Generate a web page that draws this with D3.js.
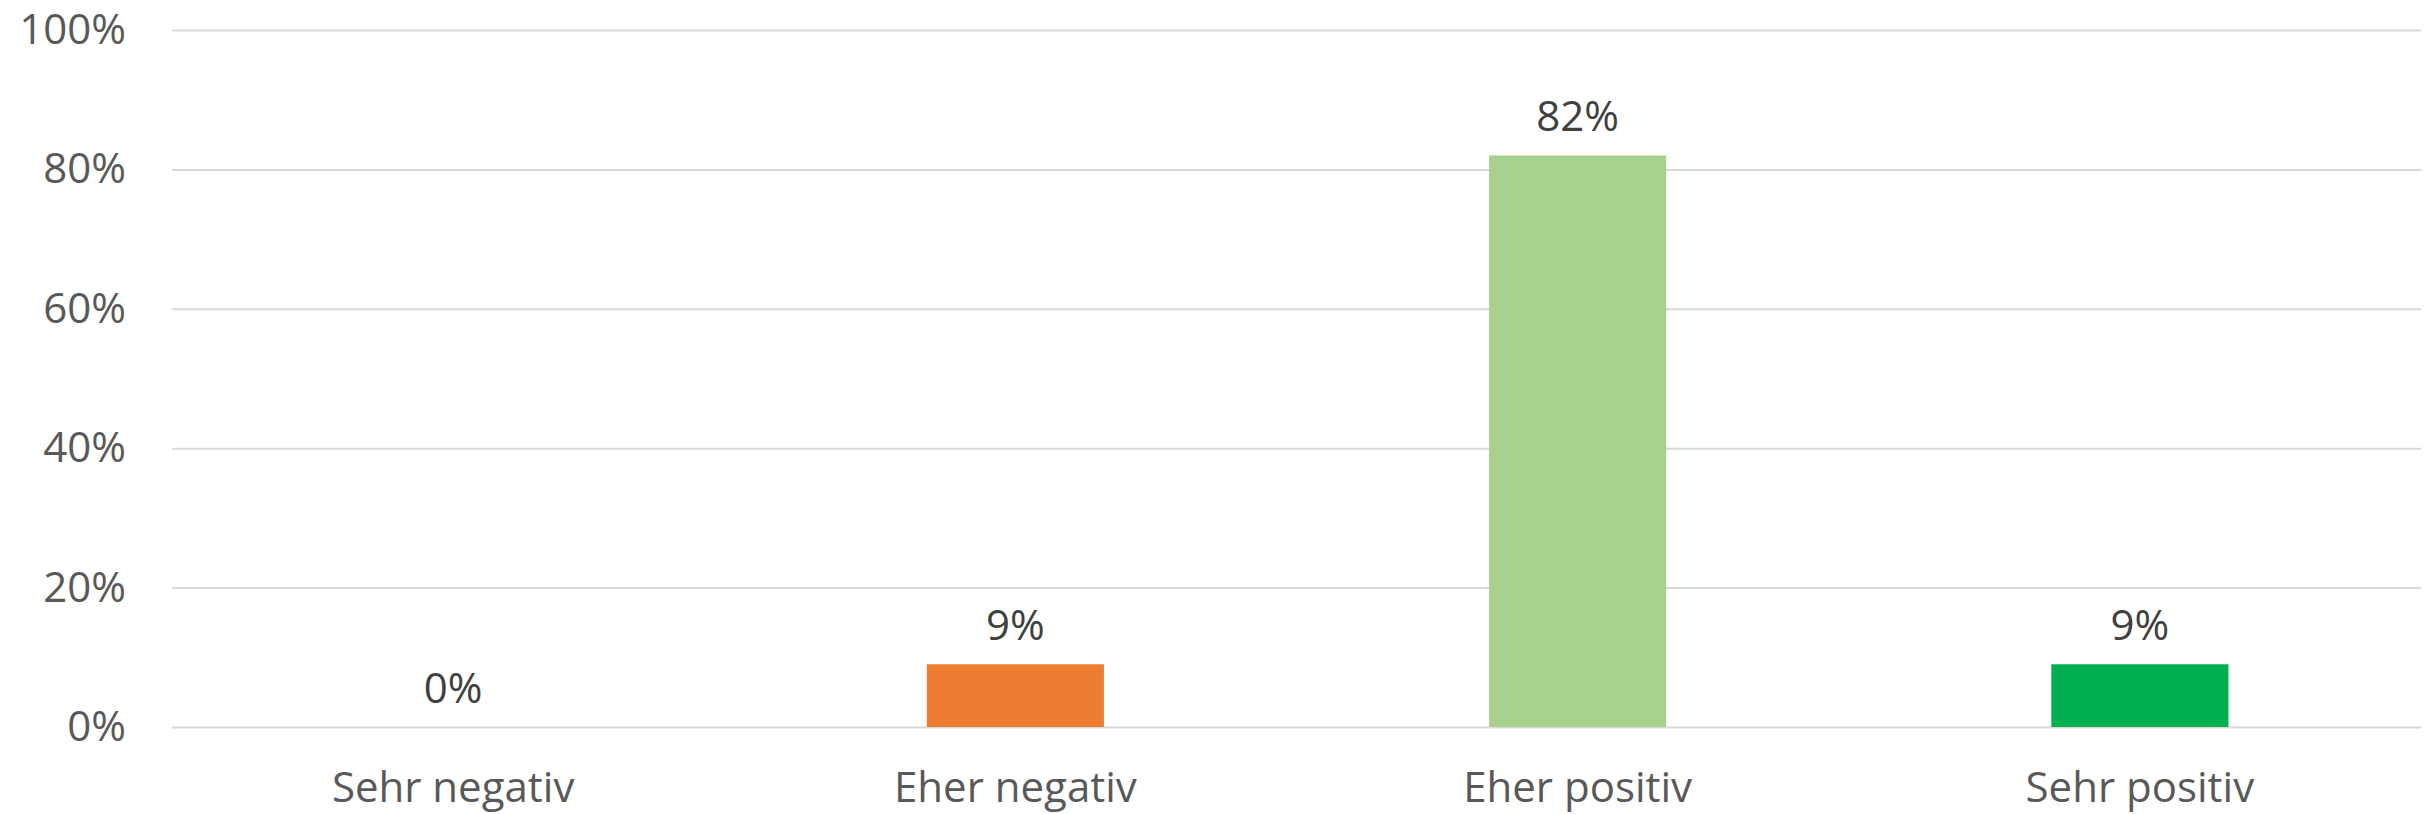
<!DOCTYPE html>
<html>
<head>
<meta charset="utf-8">
<script src="https://cdn.jsdelivr.net/npm/d3@7"></script>
<style>
  html, body { margin: 0; padding: 0; background: #fff; }
  svg { display: block; }
</style>
</head>
<body>
<svg id="chart" width="2426" height="814"></svg>
<script>
// Survey answers and their shares (percent)
const categories = ["Sehr negativ", "Eher negativ", "Eher positiv", "Sehr positiv"];
const values = [0, 9, 82, 9];
const barColors = ["#5B9BD5", "#ED7D31", "#A9D18E", "#00B050"];
const yTicks = [0, 20, 40, 60, 80, 100];

const W = 2426, H = 814;
const margin = { top: 30, right: 5, bottom: 87, left: 172 };
const FONT = "'Open Sans', 'Noto Sans', sans-serif";

const svg = d3.select("#chart");
const g = svg.append("g").attr("transform", `translate(${margin.left},${margin.top})`);
const iw = W - margin.left - margin.right;
const ih = H - margin.top - margin.bottom;

const x = d3.scaleBand().domain(categories).range([0, iw]).paddingInner(0.685).paddingOuter(0.3425);
const y = d3.scaleLinear().domain([0, 100]).range([ih, 0]);

// Horizontal gridlines
g.append("g")
  .call(d3.axisLeft(y).tickValues(yTicks).tickSize(-iw).tickFormat(""))
  .call(a => a.select(".domain").remove())
  .call(a => a.selectAll("line").attr("stroke", "#d9d9d9").attr("stroke-width", 2));

// Y axis labels
g.append("g")
  .call(d3.axisLeft(y).tickValues(yTicks).tickSize(0).tickPadding(46).tickFormat(d => d + "%"))
  .call(a => a.select(".domain").remove())
  .call(a => a.selectAll("text")
    .attr("fill", "#595959")
    .style("font-family", FONT)
    .style("font-size", "42px"));

// Bars
g.selectAll("rect.bar")
  .data(values)
  .join("rect")
  .attr("class", "bar")
  .attr("x", (d, i) => x(categories[i]))
  .attr("width", x.bandwidth())
  .attr("y", d => y(d))
  .attr("height", d => y(0) - y(d))
  .attr("fill", (d, i) => barColors[i]);

// Value labels above bars
g.selectAll("text.val")
  .data(values)
  .join("text")
  .attr("class", "val")
  .attr("x", (d, i) => x(categories[i]) + x.bandwidth() / 2)
  .attr("y", d => y(d) - 24)
  .attr("text-anchor", "middle")
  .attr("fill", "#404040")
  .style("font-family", FONT)
  .style("font-size", "42px")
  .text(d => d + "%");

// Category axis
g.append("g")
  .attr("transform", `translate(0,${ih})`)
  .call(d3.axisBottom(x).tickSize(0).tickPadding(0))
  .call(a => a.select(".domain").remove())
  .call(a => a.selectAll("text")
    .attr("dy", null)
    .attr("y", 75)
    .attr("fill", "#595959")
    .style("font-family", FONT)
    .style("font-size", "42px"));
</script>
</body>
</html>
